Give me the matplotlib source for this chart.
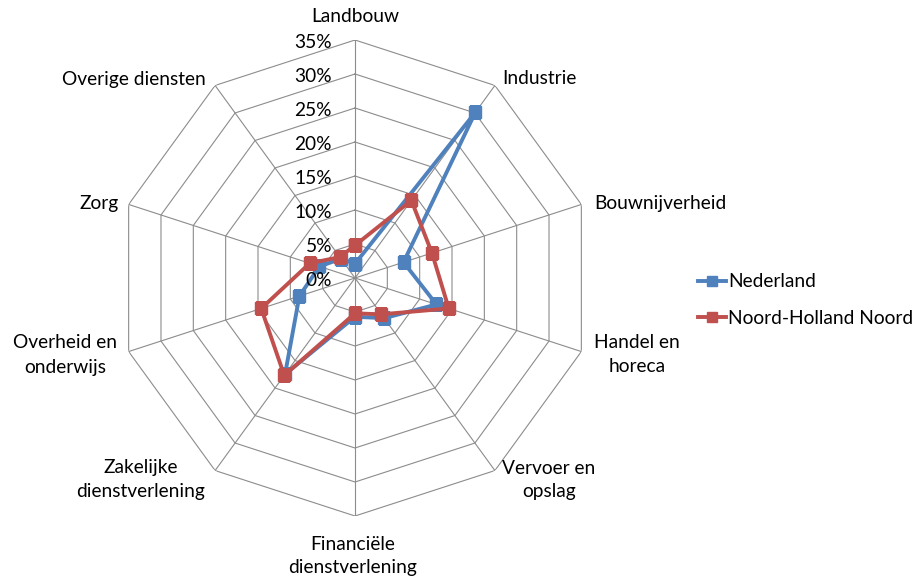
import matplotlib.pyplot as plt
import numpy as np

plt.rcParams['font.family'] = ['Lato', 'DejaVu Sans']

# Sectors (clockwise from the top)
categories = ["Landbouw", "Industrie", "Bouwnijverheid", "Handel en\nhoreca",
              "Vervoer en\nopslag", "Financiële\ndienstverlening",
              "Zakelijke\ndienstverlening", "Overheid en\nonderwijs", "Zorg",
              "Overige diensten"]

# Share of employment per sector
nederland = [0.021, 0.301, 0.075, 0.126, 0.073, 0.057, 0.175, 0.086, 0.055, 0.035]
noord_holland_noord = [0.048, 0.141, 0.119, 0.145, 0.066, 0.052, 0.177, 0.145, 0.070, 0.038]

ring_values = [0.05, 0.10, 0.15, 0.20, 0.25, 0.30, 0.35]
ring_labels = ["0%", "5%", "10%", "15%", "20%", "25%", "30%", "35%"]

blue = "#4F81BD"
red = "#C0504D"
grid_col = "#8C8C8C"
fs = 13.8

W, H = 919, 585
cx, cy, R = 355, 278, 238

fig = plt.figure(figsize=(W / 100, H / 100), dpi=100)
ax = fig.add_axes([(cx - R) / W, (H - cy - R) / H, 2 * R / W, 2 * R / H],
                  projection="polar")
ax.set_theta_zero_location("N")
ax.set_theta_direction(-1)
ax.set_ylim(0, 0.35)
ax.grid(False)
ax.spines["polar"].set_visible(False)
ax.set_xticks([])
ax.set_yticks([])
ax.patch.set_alpha(0)

n = len(categories)
theta = np.arange(n) * 2 * np.pi / n
theta_closed = np.append(theta, theta[0])

# decagon grid
for r in ring_values:
    ax.plot(theta_closed, [r] * (n + 1), color=grid_col, lw=0.8, zorder=1)
for t in theta:
    ax.plot([t, t], [0, 0.35], color=grid_col, lw=0.8, zorder=1)

# data series
for vals, col, name in [(nederland, blue, "Nederland"),
                        (noord_holland_noord, red, "Noord-Holland Noord")]:
    v = np.append(vals, vals[0])
    ax.plot(theta_closed, v, color=col, lw=2.8, marker="s", markersize=8.5,
            label=name, zorder=3, solid_joinstyle="miter")

# radial tick labels left of the top spoke
for i, lab in enumerate(ring_labels):
    r = i * 0.05
    ax.text(0.5 - 23 / (2 * R), 0.5 + r / 0.35 * 0.5 - 3 / (2 * R), lab,
            transform=ax.transAxes, ha="right", va="center", fontsize=fs,
            zorder=4)

# category labels
label_pos = [(355, 17), (539, 78), (660, 203), (637, 355), (549, 480),
             (353, 556), (141, 480), (65, 355), (99, 203), (134, 79)]
for lab, (x, y) in zip(categories, label_pos):
    fig.text(x / W, 1 - y / H, lab, ha="center", va="center", fontsize=fs,
             linespacing=1.5)

fig.legend(loc="center left", bbox_to_anchor=(681 / W, 1 - 300 / H),
           frameon=False, fontsize=fs, handlelength=1.45, handletextpad=0.1,
           labelspacing=1.0, markerscale=0.9)

fig.savefig("out.png", dpi=100)
